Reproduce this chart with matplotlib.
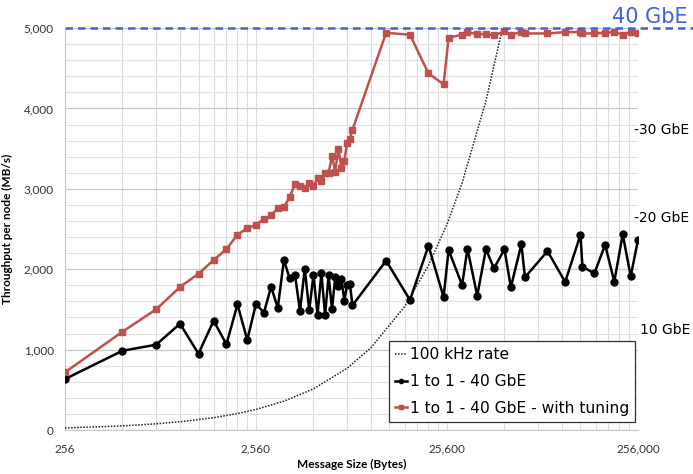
import matplotlib
matplotlib.use("Agg")
import matplotlib.pyplot as plt
from matplotlib.ticker import FixedLocator, FuncFormatter, NullFormatter

plt.rcParams['font.family'] = ['Lato', 'DejaVu Sans']

# message sizes (bytes) used by both measured series
sizes = [256, 512, 768, 1024, 1280, 1536, 1792, 2048, 2304, 2560,
         2816, 3072, 3328, 3584, 3840, 4096, 4352, 4608, 4864, 5120,
         5376, 5632, 5888, 6144, 6400, 6656, 6912, 7168, 7424, 7680,
         7936, 8192, 12288, 16384, 20480, 24576, 26100, 30720, 32768, 36864,
         40960, 45056, 51200, 55296, 62800, 65536, 86000, 106400, 128000, 131072,
         151400, 172300, 192400, 213000, 234500, 256000]

# 1 to 1 - 40 GbE (MB/s)
plain = [634, 986, 1061, 1322, 949, 1360, 1066, 1563, 1120, 1570,
         1459, 1783, 1517, 2114, 1886, 1932, 1480, 2006, 1488, 1932,
         1434, 1953, 1430, 1924, 1501, 1903, 1795, 1878, 1608, 1807,
         1820, 1551, 2106, 1617, 2292, 1654, 2239, 1803, 2255, 1671,
         2251, 2011, 2247, 1775, 2313, 1899, 2226, 1841, 2429, 2031,
         1949, 2305, 1845, 2434, 1912, 2363]

# 1 to 1 - 40 GbE - with tuning (MB/s)
tuned = [718, 1223, 1501, 1779, 1944, 2114, 2250, 2430, 2510, 2555,
         2624, 2670, 2757, 2770, 2898, 3060, 3040, 3010, 3068, 3039,
         3130, 3095, 3200, 3195, 3410, 3215, 3500, 3260, 3346, 3570,
         3618, 3735, 4941, 4917, 4436, 4300, 4880, 4917, 4950, 4925,
         4925, 4909, 4958, 4917, 4950, 4933, 4933, 4950, 4950, 4933,
         4933, 4941, 4950, 4917, 4950, 4933]

# 100 kHz rate line
rate_sizes = [256, 512, 768, 1024, 1536, 2048, 2560, 3584, 5120, 7680,
              10240, 15360, 20480, 25600, 30720, 40960, 50000]
rate_mbps = [25.6, 51.2, 76.8, 102.4, 153.6, 204.8, 256, 358.4, 512, 768,
             1024, 1536, 2048, 2560, 3072, 4096, 5000]

gbe_labels = ['-30 GbE', '-20 GbE', '10 GbE']
gbe_levels = [3731, 2637, 1244]

fig = plt.figure(figsize=(6.93, 4.74), dpi=100)
ax = fig.add_axes([0.0938, 0.0928, 0.8268, 0.848])

ax.plot(rate_sizes, rate_mbps, color='#222222', lw=1.1, ls=(0, (1, 1)),
        label='100 kHz rate', zorder=3)
ax.plot(sizes, plain, color='black', lw=1.8, marker='o', ms=5,
        label='1 to 1 - 40 GbE', zorder=4)
ax.plot(sizes, tuned, color='#c0504d', lw=1.8, marker='s', ms=5,
        label='1 to 1 - 40 GbE - with tuning', zorder=5)

ax.set_xscale('log')
ax.set_xlim(256, 256000)
ax.set_ylim(0, 5000)

majors = [256, 2560, 25600, 256000]
minors = [256 * d * 10 ** e for e in range(3) for d in range(2, 10)]
ax.xaxis.set_major_locator(FixedLocator(majors))
ax.xaxis.set_minor_locator(FixedLocator(minors))
ax.xaxis.set_major_formatter(FuncFormatter(lambda v, p: f'{int(round(v)):,}'))
ax.xaxis.set_minor_formatter(NullFormatter())
ax.yaxis.set_major_locator(FixedLocator([0, 1000, 2000, 3000, 4000, 5000]))
ax.yaxis.set_minor_locator(FixedLocator(list(range(200, 5000, 200))))
ax.yaxis.set_major_formatter(FuncFormatter(lambda v, p: f'{int(v):,}'))

ax.xaxis.grid(True, which='both', color='#dcdcdc', lw=0.8)
ax.yaxis.grid(True, which='major', color='#c8c8c8', lw=0.9)
ax.yaxis.grid(True, which='minor', color='#e0e0e0', lw=0.8)
ax.set_axisbelow(True)
ax.tick_params(which='both', length=0, labelsize=8.5, colors='#333333')
ax.tick_params(axis='x', pad=10)
ax.tick_params(axis='y', pad=8)
for s in ['top', 'right']:
    ax.spines[s].set_visible(False)
ax.spines['left'].set_color('#c8c8c8')
ax.spines['bottom'].set_color('#c8c8c8')

ax.set_xlabel('Message Size (Bytes)', fontsize=8.5, fontweight='bold', labelpad=3)
ax.set_ylabel('Throughput per node (MB/s)', fontsize=8.5, fontweight='bold', labelpad=8)

# 40 GbE limit line
ax.axhline(5000, xmin=0, xmax=1.1, color='#4060e0', lw=1.8, ls=(0, (3, 2)),
           clip_on=False, zorder=6)
ax.text(0.955, 5010, '40 GbE', transform=ax.get_yaxis_transform(),
        color='#4060e0', fontsize=15, fontfamily='DejaVu Sans', va='bottom',
        ha='left', clip_on=False)
for lab, lv in zip(gbe_labels, gbe_levels):
    ax.text(0.993 if lab.startswith('-') else 1.003, lv, lab,
            transform=ax.get_yaxis_transform(), fontsize=10,
            fontfamily='DejaVu Sans', va='center', ha='left', clip_on=False)

leg = ax.legend(loc='lower right', bbox_to_anchor=(0.995, 0.02),
                handlelength=0.8, handletextpad=0.15,
                borderpad=0.4, labelspacing=0.75, fancybox=False,
                framealpha=1, edgecolor='#333333', borderaxespad=0,
                markerscale=0.6, prop={'family': 'DejaVu Sans', 'size': 11.2})
leg.get_frame().set_linewidth(0.9)

fig.savefig('out.png', dpi=100)
